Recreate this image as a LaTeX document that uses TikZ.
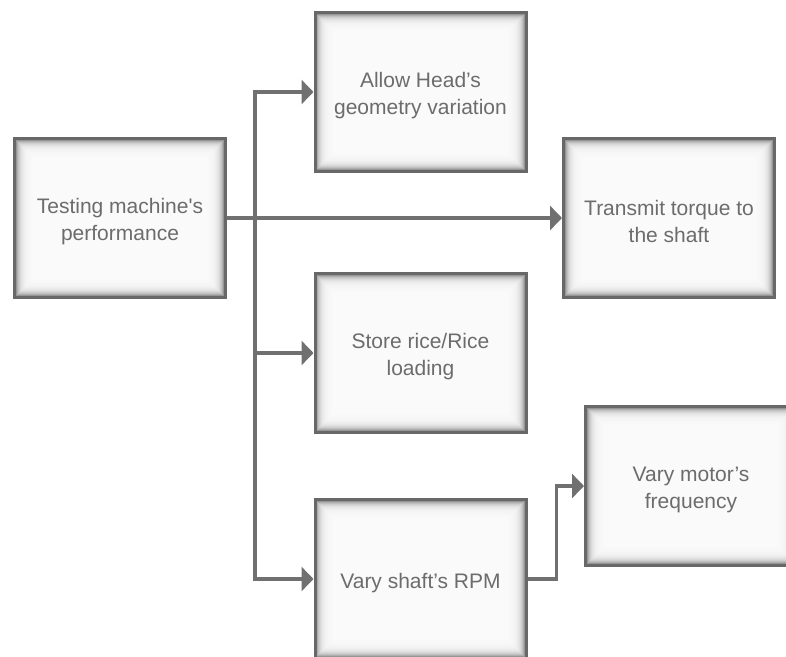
\documentclass[tikz,border=0pt]{standalone}
\usepackage{fontspec}
\setmainfont{Liberation Sans}[Ligatures=TeXOff]
\usetikzlibrary{arrows.meta,calc}
\definecolor{linegray}{RGB}{112,112,112}
\definecolor{edgegray}{RGB}{104,104,104}
\definecolor{textgray}{RGB}{108,108,108}
% extra height above the first line, lowers the text block a little
\newcommand{\tallstrut}{\rule{0pt}{23pt}}
\tikzset{
  block/.style={
    draw=edgegray, line width=3pt, fill=white!98!black,
    minimum width=211pt, minimum height=159pt, inner sep=0pt,
    align=center, text=textgray, font=\fontsize{21}{27}\selectfont,
    path picture={
      \foreach \i in {0,...,16}{
        \pgfmathsetmacro\op{0.40*exp(-\i/3.6)}
        \draw[black, opacity=\op, line width=1pt]
          ($(path picture bounding box.south west)+(\i*1pt+1.8pt,\i*1pt+1.8pt)$)
          rectangle
          ($(path picture bounding box.north east)-(\i*1pt+1.8pt,\i*1pt+1.8pt)$);
      }
    }
  },
  conn/.style={draw=linegray, line width=3.5pt, line join=miter,
    -{Triangle[length=12pt,width=24pt]}}
}
\begin{document}
\begin{tikzpicture}[x=1pt,y=-1pt]
\useasboundingbox (0,0) rectangle (786,656);

% boxes
\node[block] (t)  at (120,218)   {\tallstrut Testing machine's\\performance};
\node[block] (a)  at (420.5,92)  {\tallstrut Allow Head’s\\geometry variation};
\node[block] (tr) at (669,218)   {\tallstrut Transmit torque to\\the shaft};
\node[block] (s)  at (420.5,353) {\tallstrut Store rice/Rice\\loading};
\node[block] (v)  at (420.5,579) {\tallstrut Vary shaft’s RPM};
\node[block] (m)  at (691,486)   {\tallstrut Vary motor’s\\frequency};

% junction on the trunk line
\coordinate (j) at (255,218);

% connectors
\draw[conn] (t.east) -- (tr.west);
\draw[conn] (j) |- (a.west);
\draw[conn] (j) |- (s.west);
\draw[conn] (j) |- (v.west);
\draw[conn] (v.east) -- ++(29pt,0pt) |- (m.west);
\end{tikzpicture}
\end{document}
